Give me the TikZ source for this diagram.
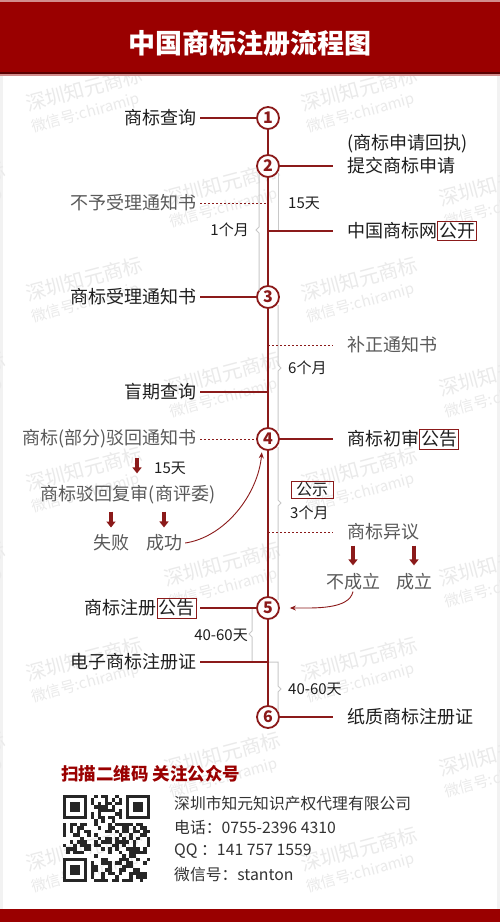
\documentclass[tikz,border=0pt]{standalone}
\usepackage{fontspec}
\setmainfont{Noto Sans CJK SC}
\usetikzlibrary{arrows.meta,calc}
\definecolor{hdred}{RGB}{154,0,0}
\definecolor{lnred}{RGB}{139,26,26}
\definecolor{txtc}{RGB}{30,30,30}
\definecolor{gtxt}{RGB}{90,90,90}
\definecolor{glc}{RGB}{200,200,200}
\definecolor{wmk}{RGB}{234,234,234}
\newcommand{\redbox}[1]{{\setlength{\fboxsep}{1.2pt}\setlength{\fboxrule}{0.8pt}\fcolorbox{lnred}{white}{#1}}}
\begin{document}
\begin{tikzpicture}[x=1pt,y=-1pt,
  lbl/.style={font=\fontsize{18}{20}\selectfont,text=txtc,inner xsep=3pt,inner ysep=1pt},
  glbl/.style={lbl,text=gtxt},
  sml/.style={font=\fontsize{15}{17}\selectfont,text=txtc,inner sep=1pt},
  num/.style={circle,draw=lnred,line width=1.8pt,fill=white,minimum size=22pt,inner sep=0pt,font=\bfseries\fontsize{16}{16}\selectfont,text=lnred},
  rline/.style={lnred,line width=1.3pt},
  dline/.style={lnred,line width=1pt,dash pattern=on 2pt off 2pt},
  gline/.style={glc,line width=1pt},
  redarrow/.style={-{Triangle[length=6pt,width=9pt]},line width=3.2pt,lnred},
  thinarrow/.style={-{Stealth[length=6pt,width=5pt]},line width=0.9pt,lnred},
  wmark/.style={rotate=15,align=left,text=wmk,font=\fontsize{20}{21}\selectfont},
  info/.style={anchor=west,text=black!80,font=\fontsize{15.8}{17}\selectfont,inner sep=0pt}]
\useasboundingbox (0,0) rectangle (500,922);
\fill[black!5] (0,0) rectangle (500,922);
\fill[white] (3,75) rectangle (497,909);
\fill[hdred] (0,0) rectangle (500,74);
\fill[black!40!hdred] (0,72) rectangle (500,74);
\fill[hdred!45] (0,74) rectangle (500,76);
\fill[hdred!45] (0,0) rectangle (500,1.5);
\fill[hdred] (0,909) rectangle (500,922);
\begin{scope}
\clip (0,76) rectangle (500,909);
\foreach \wy in {100,290,480,670,860}{\foreach \wx in {87,362}{
  \node[wmark] (wm-\wx-\wy) at (\wx,\wy) {深圳知元商标\\{\fontsize{15}{15}\selectfont 微信号:chiramip}};}}
\foreach \wy in {195,385,575,765}{\foreach \wx in {-50,225,500}{
  \node[wmark] (wm-\wx-\wy) at (\wx,\wy) {深圳知元商标\\{\fontsize{15}{15}\selectfont 微信号:chiramip}};}}
\end{scope}
\node[font=\bfseries\fontsize{27}{30}\selectfont,text=white] (title) at (250,43) {中国商标注册流程图};
\node[num] (c1) at (268,118) {1};
\node[num] (c2) at (268,166) {2};
\node[num] (c3) at (268,297) {3};
\node[num] (c4) at (268,439) {4};
\node[num] (c5) at (268,608) {5};
\node[num] (c6) at (268,717) {6};
\node[lbl,anchor=east] (sq) at (200,118) {商标查询};
\node[glbl,anchor=east] (nb) at (200,203) {不予受理通知书};
\node[lbl,anchor=east] (sl) at (200,297) {商标受理通知书};
\node[lbl,anchor=east] (mq) at (200,392) {盲期查询};
\node[glbl,anchor=east] (bh) at (200,439) {商标(部分)驳回通知书};
\node[sml] (d1) at (170,468) {15天};
\node[glbl] (fs) at (128,495) {商标驳回复审(商评委)};
\node[glbl] (sb) at (111,543) {失败};
\node[glbl] (cg) at (164,543) {成功};
\node[lbl,anchor=east] (zc) at (200,608) {商标注册\redbox{公告}};
\node[sml,anchor=east] (t1) at (249,635) {40-60天};
\node[lbl,anchor=east] (dz) at (200,662) {电子商标注册证};
\node[lbl,anchor=west] (hz) at (344,144) {(商标申请回执)};
\node[lbl,anchor=west] (tj) at (344,166) {提交商标申请};
\node[sml,anchor=west] (d2) at (287,203) {15天};
\node[sml,anchor=east] (m1) at (250,230) {1个月};
\node[lbl,anchor=west] (gk) at (344,231) {中国商标网\redbox{公开}};
\node[glbl,anchor=west] (bz) at (344,345) {补正通知书};
\node[sml,anchor=west] (m6) at (287,368) {6个月};
\node[lbl,anchor=west] (cs) at (344,439) {商标初审\redbox{公告}};
\node[draw=lnred,line width=0.8pt,inner xsep=5pt,inner ysep=1.5pt,font=\fontsize{16}{16}\selectfont,text=txtc] (gs) at (312,490) {公示};
\node[sml,anchor=west] (m3) at (289,513) {3个月};
\node[glbl,anchor=west] (yy) at (344,532) {商标异议};
\node[glbl] (bcl) at (353,582) {不成立};
\node[glbl] (cl) at (414,582) {成立};
\node[sml,anchor=west] (t2) at (287,689) {40-60天};
\node[lbl,anchor=west] (zz) at (344,717) {纸质商标注册证};
\coordinate (rx) at (278,0);
\coordinate (lx) at (259,0);
\coordinate (lx2) at (252,0);
\draw[gline] ([yshift=-7pt]rx |- c2) -- (rx |- gk);
\draw[gline] ([yshift=-8pt]lx |- c2) -- ([yshift=3pt]lx |- m1) -- ++(-3,3) -- ++(3,3) -- ([yshift=6pt]lx |- c3);
\draw[gline] ([yshift=-8pt]rx |- c3) -- ([yshift=3pt]rx |- m6) -- ++(3,3) -- ++(-3,3) -- ([yshift=8pt]rx |- c4);
\draw[gline] ([yshift=-8pt]rx |- c4) -- ([yshift=13pt]rx |- m3) -- ++(3,3) -- ++(-3,3) -- ([yshift=8pt]rx |- c5);
\draw[gline] (lx2 |- c5) -- ([yshift=4pt]lx2 |- t1) -- ++(-3,3) -- ++(3,3) -- (lx2 |- dz);
\draw[gline] (dz -| c1) -- (rx |- dz) -- ([yshift=3pt]rx |- t2) -- ++(3,3) -- ++(-3,3) -- ([yshift=6pt]rx |- c6);
\draw[rline] (c1) -- (c2) -- (c3) -- (c4) -- (c5) -- (c6);
\draw[rline] (sq) -- (c1);
\draw[rline,shorten >=11pt] (c2) -- (tj);
\draw[dline] (nb) -- (nb -| c1);
\draw[rline,shorten >=11pt] (gk -| c1) -- (gk);
\draw[rline] (sl) -- (c3);
\draw[dline,shorten >=11pt] (bz -| c1) -- (bz);
\draw[rline] (mq) -- (mq -| c1);
\draw[dline] (bh) -- (c4);
\draw[rline,shorten >=11pt] (c4) -- (cs);
\draw[dline,shorten >=11pt] (yy -| c1) -- (yy);
\draw[rline] (zc) -- (c5);
\draw[rline] (dz) -- (dz -| c1);
\draw[rline,shorten >=11pt] (c6) -- (zz);
\draw[redarrow,shorten <=8pt,shorten >=11pt] ([xshift=9pt]fs.north |- bh.south) -- ([xshift=9pt]fs.north);
\draw[redarrow,shorten <=6pt,shorten >=6pt] (sb |- fs.south) -- (sb.north);
\draw[redarrow,shorten <=6pt,shorten >=6pt] (cg |- fs.south) -- (cg.north);
\draw[redarrow,shorten <=4pt,shorten >=7pt] (bcl |- yy.south) -- (bcl.north);
\draw[redarrow,shorten <=4pt,shorten >=7pt] (cl |- yy.south) -- (cl.north);
\draw[thinarrow,shorten >=3pt] (cg.east) .. controls +(40,-6) and +(-4,45) .. (c4.240);
\draw[thinarrow,shorten >=10pt] (bcl.south) .. controls +(-4,18) and +(35,0) .. (c5.east);
\node[font=\bfseries\fontsize{17.5}{20}\selectfont,text=hdred,anchor=west,inner sep=0pt] (scan) at (61,774) {扫描二维码 关注公众号};
\node[info] (co) at (174,803) {深圳市知元知识产权代理有限公司};
\node[info] (tel) at (174,828) {电话：0755-2396 4310};
\node[info] (qq) at (174,851) {QQ\ ：141 757 1559};
\node[info] (wx) at (174,875) {微信号：stanton};
\coordinate (qr) at (63,795);
\begin{scope}
\clip (qr) rectangle ++(87,87);
\pgfmathsetseed{31}
\foreach \i in {0,...,24}{\foreach \j in {0,...,24}{
  \pgfmathtruncatemacro\qon{rnd<0.45}
  \ifnum\qon=1 \fill[black!85] (qr) ++(\i*3.48,\j*3.48) rectangle ++(3.48,3.48);\fi}}
\foreach \fx/\fy in {0/0,18/0,0/18}{
  \fill[white] (qr) ++(\fx*3.48-3.48,\fy*3.48-3.48) rectangle ++(9*3.48,9*3.48);
  \fill[black!85] (qr) ++(\fx*3.48,\fy*3.48) rectangle ++(7*3.48,7*3.48);
  \fill[white] (qr) ++(\fx*3.48+3.48,\fy*3.48+3.48) rectangle ++(5*3.48,5*3.48);
  \fill[black!85] (qr) ++(\fx*3.48+6.96,\fy*3.48+6.96) rectangle ++(3*3.48,3*3.48);}
\end{scope}
\end{tikzpicture}
\end{document}
